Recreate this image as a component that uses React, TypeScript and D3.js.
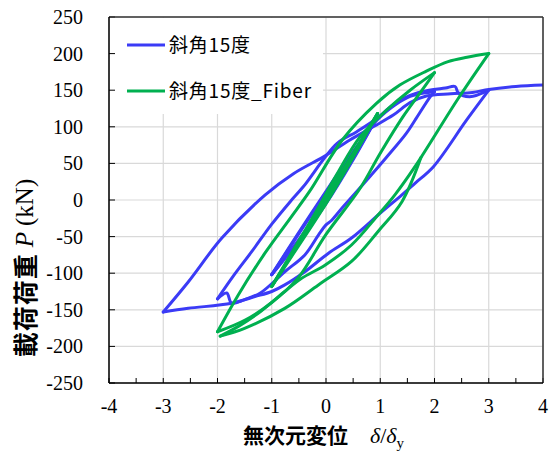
import React from "react";
import * as d3 from "d3";

// ---- data ----
const xTicks = [-4, -3, -2, -1, 0, 1, 2, 3, 4];
const xMinorTicks = [-3.5, -2.5, -1.5, -0.5, 0.5, 1.5, 2.5, 3.5];
const yTicks = [250, 200, 150, 100, 50, 0, -50, -100, -150, -200, -250];

const seriesNames = ["斜角15度", "斜角15度_Fiber"];

// 斜角15度 : δ/δy
const blueX = [
  0, 0.5, 0.9, 0.5, 0, -0.5, -1.0, -0.5, 0, 0.5, 0.9, 0.5, 0, -0.5, -1.0,
  -0.5, 0, 0.5, 0.9, 1.2, 1.5, 1.8, 2.0,
  1.92, 1.64, 1.48, 1.1, 0.81, 0.32, 0.1, 0.0, -0.14, -0.39, -0.76, -1.21, -1.5, -1.74, -1.83, -2.0,
  -1.7, -1.37, -1.0, -0.66, -0.42, 0.2, 0.56, 0.93, 1.24, 1.55, 1.9, 2.2, 2.38, 2.44, 2.65, 3.0,
  2.59, 1.98, 1.64, 1.4, 1.0, 0.47, 0.04, -0.39, -0.76, -1.0, -1.31, -1.74, -2.54, -3.0,
  -2.54, -1.92, -1.12, -0.6, 0, 0.44, 0.87, 1.24, 1.55, 1.85, 2.3, 2.7, 3.0, 3.5, 4.0,
];
// 斜角15度 : P (kN)
const blueY = [
  0, 60, 108, 55, -5, -56, -102, -44, 12, 66, 108, 57, -3, -54, -102,
  -46, 10, 64, 106, 126, 140, 146, 148,
  141, 109, 91, 57, 32, -9, -28, -34, -48, -75, -98, -127, -136, -141, -127, -135,
  -103, -70.6, -33, -2.3, 18, 77, 93, 111, 130, 143, 150, 153, 155, 146, 141, 150,
  109, 45.5, 22.8, 7, -18, -52, -73, -98, -116, -125, -132, -141, -148, -153,
  -112, -52, 7, 36, 61, 82, 100, 116, 133, 142, 145, 147, 151, 155, 157,
];

// 斜角15度_Fiber : δ/δy
const greenX = [
  0, 0.5, 0.95, 0.5, 0, -0.5, -1.0, -0.5, 0, 0.5, 0.95, 0.5, 0, -0.5, -1.0,
  -0.6, -0.2, 0.2, 0.63, 1.12, 1.55, 2.0,
  1.75, 1.42, 1.0, 0.62, 0.0, -0.51, -1.0, -1.49, -2.0,
  -1.62, -1.12, -0.66, -0.3, 0.3, 0.93, 1.36, 1.85, 2.25, 2.6, 3.0,
  2.44, 1.64, 1.27, 0.96, 0.47, -0.02, -0.45, -0.76, -1.2, -1.6, -1.95,
  -1.49, -0.76, -0.14, 0.47, 0.96, 1.4, 1.75,
];
// 斜角15度_Fiber : P (kN)
const greenY = [
  0, 62, 118, 60, -2, -60, -118, -58, 4, 64, 118, 58, -5, -62, -118,
  -68, -18, 35, 86.5, 123, 150, 174,
  148, 114, 64, 15, -47, -106, -140, -164, -180,
  -130, -72, -25, 12, 82, 132, 157, 176, 189, 195, 200,
  139, 45.5, 7, -20.5, -61.5, -89, -107, -125, -152, -172, -186,
  -175, -148, -116, -84, -43, -2.3, 58,
];

const colors = ["#3b3bf6", "#00b050"];

const W = 550;
const H = 460;
const L = 109, R = 543, T = 17, B = 383;

// split a hysteresis path into monotone-in-x branches at load reversals
function branches(xs: number[], ys: number[]): [number, number][][] {
  const out: [number, number][][] = [];
  let cur: [number, number][] = [[xs[0], ys[0]]];
  let dir = 0;
  for (let i = 1; i < xs.length; i++) {
    const d = Math.sign(xs[i] - xs[i - 1]);
    if (dir !== 0 && d !== 0 && d !== dir) {
      out.push(cur);
      cur = [[xs[i - 1], ys[i - 1]]];
    }
    if (d !== 0) dir = d;
    cur.push([xs[i], ys[i]]);
  }
  out.push(cur);
  return out;
}

export default function App() {
  const x = d3.scaleLinear().domain([-4, 4]).range([L, R]);
  const y = d3.scaleLinear().domain([-250, 250]).range([B, T]);
  const line = d3
    .line<[number, number]>()
    .x((d) => x(d[0]))
    .y((d) => y(d[1]))
    .curve(d3.curveCatmullRom.alpha(0.5));

  const blue = branches(blueX, blueY);
  const green = branches(greenX, greenY);

  const serif = "'Liberation Serif', 'Times New Roman', serif";
  const gothic = "'Noto Sans CJK JP', sans-serif";

  return (
    <svg
      width={W}
      height={H}
      style={{ position: "absolute", left: 0, top: 0, background: "#fff" }}
    >
      <defs>
        <clipPath id="plotclip">
          <rect x={L} y={T} width={R - L} height={B - T} />
        </clipPath>
      </defs>
      <rect x={0} y={0} width={W} height={H} fill="#fff" />
      {/* grid */}
      {xTicks.map((t) => (
        <line key={"gx" + t} x1={x(t)} x2={x(t)} y1={T} y2={B} stroke="#d9d9d9" strokeWidth={1.2} />
      ))}
      {yTicks.map((t) => (
        <line key={"gy" + t} x1={L} x2={R} y1={y(t)} y2={y(t)} stroke="#d9d9d9" strokeWidth={1.2} />
      ))}
      {/* legend background */}
      <rect x={L + 1} y={T + 1} width={213} height={96} fill="#fff" />
      {/* ticks (inward) */}
      {yTicks.map((t) => (
        <line key={"ty" + t} x1={L} x2={L + 6} y1={y(t)} y2={y(t)} stroke="#000" strokeWidth={1} />
      ))}
      {[...xTicks, ...xMinorTicks].map((t) => (
        <line key={"tx" + t} x1={x(t)} x2={x(t)} y1={B} y2={B - 5} stroke="#000" strokeWidth={1} />
      ))}
      {/* data */}
      <g clipPath="url(#plotclip)" fill="none" strokeWidth={3} strokeLinejoin="round" strokeLinecap="round">
        {blue.map((b, i) => (
          <path key={"b" + i} d={line(b) || ""} stroke={colors[0]} />
        ))}
        {green.map((b, i) => (
          <path key={"g" + i} d={line(b) || ""} stroke={colors[1]} />
        ))}
      </g>
      {/* frame */}
      <line x1={L} x2={R} y1={T} y2={T} stroke="#333" strokeWidth={1.5} />
      <line x1={R} x2={R} y1={T} y2={B} stroke="#333" strokeWidth={1.5} />
      <line x1={L} x2={L} y1={T} y2={B} stroke="#000" strokeWidth={1.5} />
      <line x1={L} x2={R} y1={B} y2={B} stroke="#000" strokeWidth={1.5} />
      {/* legend */}
      {seriesNames.map((n, i) => (
        <g key={n}>
          <line x1={127} x2={165} y1={45 + i * 46} y2={45 + i * 46} stroke={colors[i]} strokeWidth={3} />
          <text
            x={169}
            y={52 + i * 46}
            fontFamily={gothic}
            fontSize={19}
            fill="#000"
            textLength={i === 0 ? 81 : 142}
            lengthAdjust="spacing"
          >
            {n}
          </text>
        </g>
      ))}
      {/* y tick labels */}
      {yTicks.map((t) => (
        <text
          key={"ly" + t}
          x={83}
          y={y(t)}
          textAnchor="end"
          dominantBaseline="central"
          fontFamily={serif}
          fontSize={20}
          fill="#000"
        >
          {t}
        </text>
      ))}
      {/* x tick labels */}
      {xTicks.map((t) => (
        <text
          key={"lx" + t}
          x={x(t)}
          y={413}
          textAnchor="middle"
          fontFamily={serif}
          fontSize={20}
          fill="#000"
        >
          {t}
        </text>
      ))}
      {/* y title */}
      <g transform="translate(24,268) rotate(-90)">
        <text x={0} y={0} textAnchor="middle" dominantBaseline="central" fontSize={25} fill="#000">
          <tspan fontFamily={gothic} fontWeight={700} letterSpacing={1}>載荷荷重</tspan>
          <tspan fontFamily={serif} fontStyle="italic" dx={6}>P</tspan>
          <tspan fontFamily={serif} dx={6}>(kN)</tspan>
        </text>
      </g>
      {/* x title */}
      <text x={243} y={443} fontFamily={gothic} fontWeight={700} fontSize={21} fill="#000" textLength={105} lengthAdjust="spacing">
        無次元変位
      </text>
      <text x={370} y={443} fontFamily={serif} fontSize={22} fill="#000">
        <tspan fontStyle="italic">δ</tspan>
        <tspan>/</tspan>
        <tspan fontStyle="italic">δ</tspan>
        <tspan dy={5} fontSize={15}>y</tspan>
      </text>
    </svg>
  );
}
